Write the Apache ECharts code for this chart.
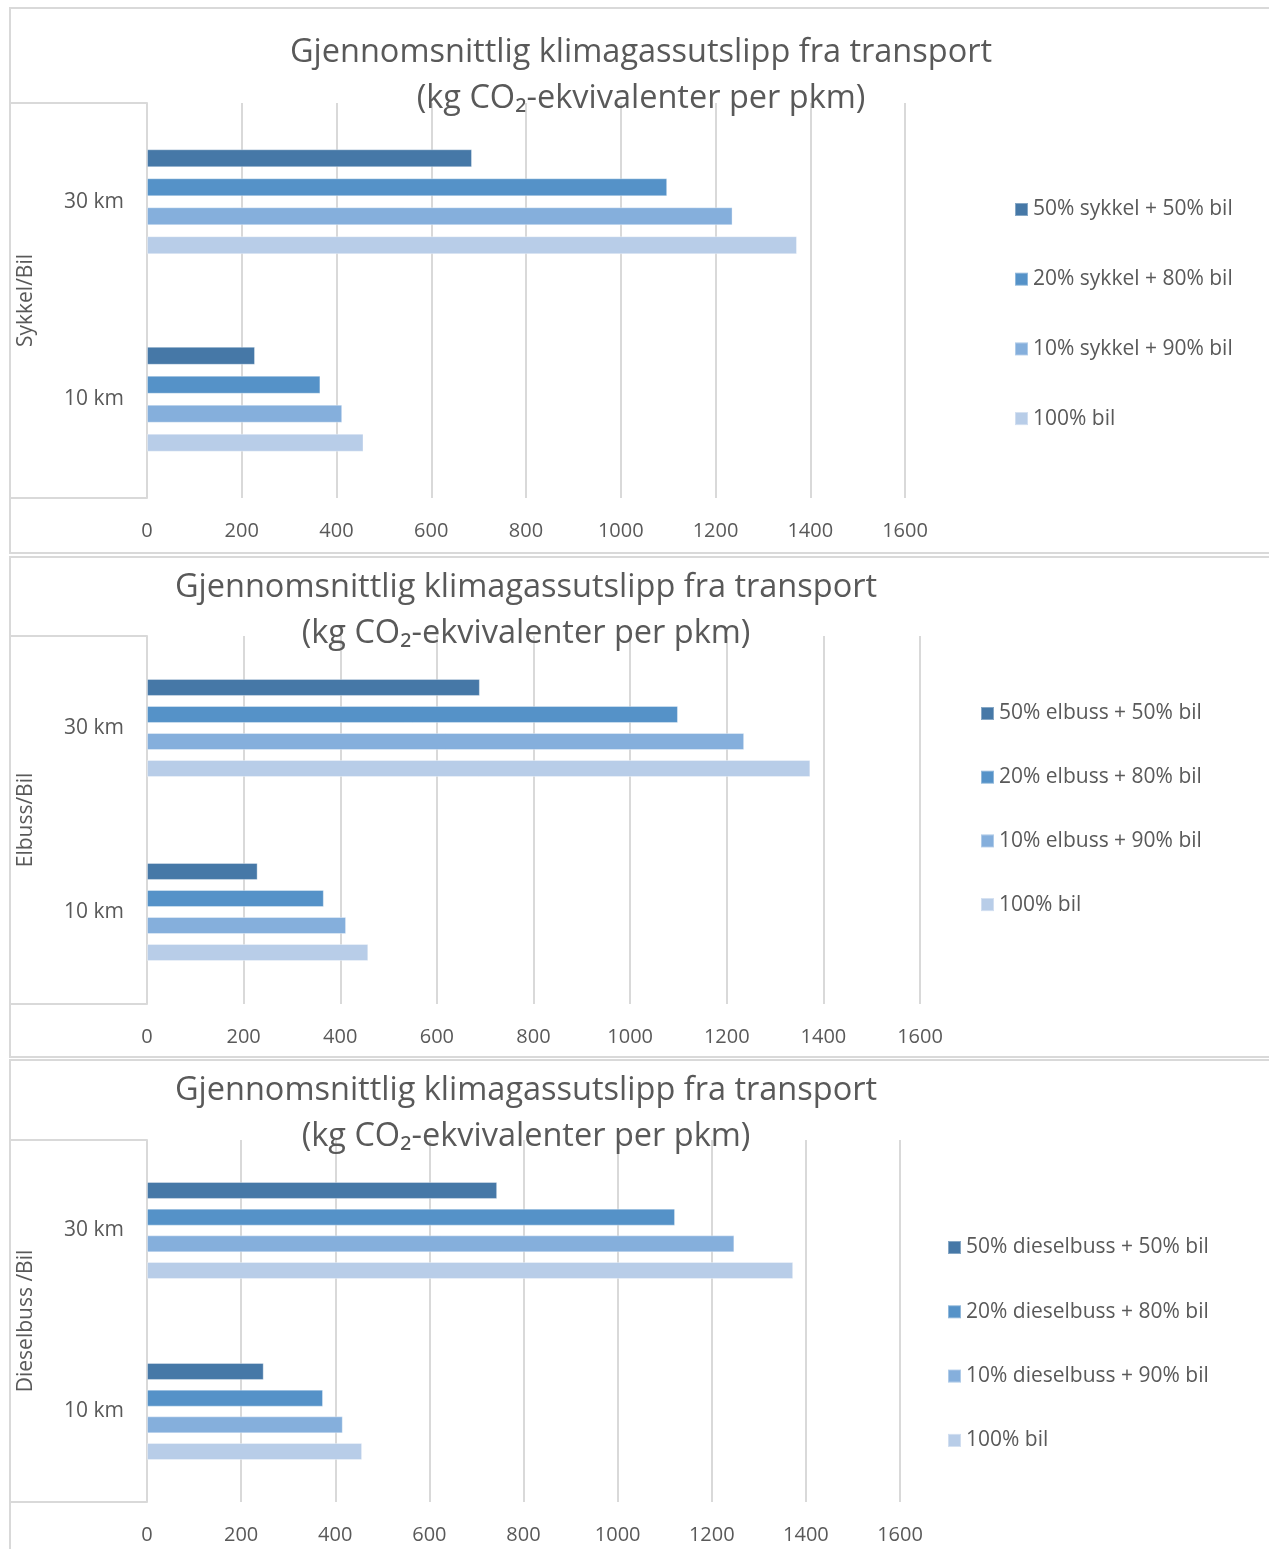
<!DOCTYPE html>
<html>
<head>
<meta charset="utf-8">
<script src="https://cdn.jsdelivr.net/npm/echarts@6/dist/echarts.min.js"></script>
<style>
  html, body { margin: 0; padding: 0; background: #ffffff; }
  #chart { width: 1269px; height: 1549px; }
</style>
</head>
<body>
<div id="chart"></div>
<script>
// Categories (bottom to top on the category axis)
const distances = ['10 km', '30 km'];
const xTickMax = 1600;
const xTickStep = 200;

// Sykkel / Bil
const sykkelNames = ['50% sykkel + 50% bil', '20% sykkel + 80% bil', '10% sykkel + 90% bil', '100% bil'];
const sykkel50 = [228, 686];
const sykkel20 = [366, 1098];
const sykkel10 = [412, 1236];
const sykkelBil = [457, 1372];

// Elbuss / Bil
const elbussNames = ['50% elbuss + 50% bil', '20% elbuss + 80% bil', '10% elbuss + 90% bil', '100% bil'];
const elbuss50 = [229, 689];
const elbuss20 = [366, 1099];
const elbuss10 = [412, 1236];
const elbussBil = [458, 1373];

// Dieselbuss / Bil
const dieselNames = ['50% dieselbuss + 50% bil', '20% dieselbuss + 80% bil', '10% dieselbuss + 90% bil', '100% bil'];
const diesel50 = [248, 744];
const diesel20 = [374, 1122];
const diesel10 = [416, 1248];
const dieselBil = [457, 1373];

const groupLabels = ['Sykkel/Bil', 'Elbuss/Bil', 'Dieselbuss /Bil'];
const titleText = 'Gjennomsnittlig klimagassutslipp fra transport\n(kg CO\u2082-ekvivalenter per pkm)';

const barColors = ['#4678A7', '#5592C8', '#85AFDC', '#B8CDE8'];
const textColor = '#595959';
const lineColor = '#D9D9D9';
const FONT = '"Open Sans", "Noto Sans", sans-serif';

// Panel geometry
const panels = [
  { names: sykkelNames, data: [sykkel50, sykkel20, sykkel10, sykkelBil],
    box: [10, 8, 1270, 545], grid: { left: 147, top: 103, width: 758, height: 395 },
    titleX: 641, titleTop: 30, legendLeft: 1014, legendTop: 199, legendGap: 48.7,
    barWidth: 18, barGap: '61%' },
  { names: elbussNames, data: [elbuss50, elbuss20, elbuss10, elbussBil],
    box: [10, 557, 1270, 500], grid: { left: 147, top: 636, width: 773, height: 368 },
    titleX: 526, titleTop: 565, legendLeft: 980, legendTop: 703, legendGap: 42.7,
    barWidth: 17, barGap: '59%' },
  { names: dieselNames, data: [diesel50, diesel20, diesel10, dieselBil],
    box: [10, 1060, 1270, 520], grid: { left: 147, top: 1140, width: 753, height: 362 },
    titleX: 526, titleTop: 1068, legendLeft: 947, legendTop: 1237, legendGap: 43.3,
    barWidth: 17, barGap: '57%' }
];

const option = {
  animation: false,
  backgroundColor: '#ffffff',
  textStyle: { fontFamily: FONT },
  title: [], legend: [], grid: [], xAxis: [], yAxis: [], series: [], graphic: []
};

panels.forEach((p, i) => {
  option.title.push({
    text: titleText,
    left: p.titleX, top: p.titleTop, textAlign: 'center', padding: 0,
    textStyle: { fontFamily: FONT, fontSize: 32.5, fontWeight: 'normal', color: textColor, lineHeight: 46 }
  });
  option.grid.push(Object.assign({ containLabel: false }, p.grid));
  option.xAxis.push({
    type: 'value', gridIndex: i, min: 0, max: xTickMax, interval: xTickStep,
    axisLine: { show: false }, axisTick: { show: false },
    axisLabel: { color: textColor, fontSize: 20, margin: 23, fontFamily: FONT,
                 formatter: v => String(v) },
    splitLine: { show: true, lineStyle: { color: lineColor, width: 2 } }
  });
  option.yAxis.push({
    type: 'category', gridIndex: i, data: distances,
    name: groupLabels[i], nameLocation: 'middle', nameRotate: 90, nameGap: 110,
    nameTextStyle: { color: textColor, fontSize: 21, fontFamily: FONT },
    axisLine: { show: true, lineStyle: { color: lineColor, width: 2 } },
    axisTick: { show: false },
    axisLabel: { color: textColor, fontSize: 21, margin: 23, fontFamily: FONT,
                 padding: [4, 0, 0, 0] }
  });
  p.names.forEach((name, k) => {
    option.series.push({
      type: 'bar', name: name, xAxisIndex: i, yAxisIndex: i,
      data: p.data[k], barWidth: p.barWidth, barGap: p.barGap,
      itemStyle: { color: barColors[k], borderColor: 'rgba(255,255,255,0.35)', borderWidth: 1 }
    });
  });
  option.legend.push({
    orient: 'vertical', left: p.legendLeft, top: p.legendTop, padding: 0,
    itemGap: p.legendGap, itemWidth: 13, itemHeight: 13, icon: 'rect',
    selectedMode: false,
    data: p.names.map((n, k) => ({ name: n, itemStyle: { color: barColors[k] } })),
    textStyle: { color: textColor, fontSize: 21, lineHeight: 20, fontFamily: FONT }
  });
  // Panel frame
  option.graphic.push({
    type: 'rect', silent: true,
    shape: { x: p.box[0], y: p.box[1], width: p.box[2], height: p.box[3] },
    style: { fill: 'none', stroke: lineColor, lineWidth: 2 }
  });
  // Group-label box lines on the category side
  const g = p.grid;
  option.graphic.push({
    type: 'line', silent: true,
    shape: { x1: p.box[0], y1: g.top, x2: g.left, y2: g.top },
    style: { stroke: lineColor, lineWidth: 2 }
  });
  option.graphic.push({
    type: 'line', silent: true,
    shape: { x1: p.box[0], y1: g.top + g.height, x2: g.left, y2: g.top + g.height },
    style: { stroke: lineColor, lineWidth: 2 }
  });
});

const chart = echarts.init(document.getElementById('chart'), null, { renderer: 'canvas' });
chart.setOption(option);
</script>
</body>
</html>
